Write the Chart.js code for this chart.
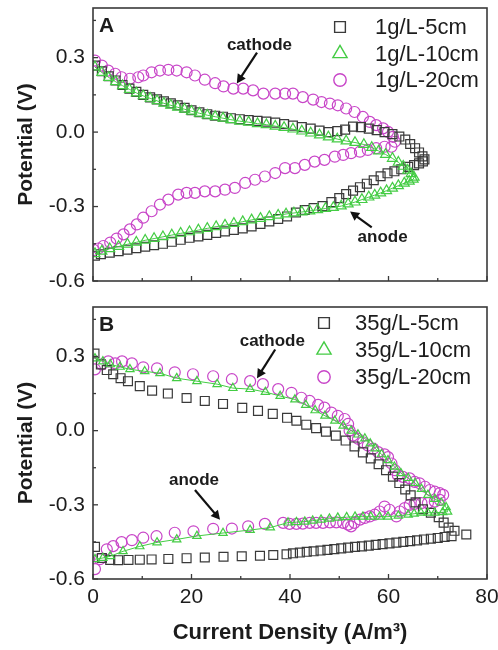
<!DOCTYPE html>
<html>
<head>
<meta charset="utf-8">
<script src="https://cdn.jsdelivr.net/npm/chart.js@4.4.1/dist/chart.umd.min.js"></script>
<style>
  html, body { margin: 0; padding: 0; background: #ffffff; }
  #wrap { position: relative; width: 498px; height: 650px; }
  #wrap canvas { position: absolute; left: 0; }
</style>
</head>
<body>
<div id="wrap">
  <canvas id="panelA" width="498" height="290" style="top:0px"></canvas>
  <canvas id="panelB" width="498" height="360" style="top:290px"></canvas>
</div>
<script>
// ---- axes ----
const xRange = [0, 80];
const yRange = [-0.6, 0.5];
const xMajor = [0, 20, 40, 60, 80];
const xMinor = [10, 30, 50, 70];
const yMajor = [-0.6, -0.3, 0.0, 0.3];
const yMinor = [-0.45, -0.15, 0.15, 0.45];
const xTitle = 'Current Density (A/m\u00B3)';
const yTitle = 'Potential (V)';

// ---- panel A: 1 g/L, polarization loops (cathode branch then anode branch) ----
const labelsA = ['1g/L-5cm', '1g/L-10cm', '1g/L-20cm'];

const a5X = [0.4, 1.8, 3.2, 4.6, 6.0, 7.4, 8.8, 10.2, 11.6, 13.0, 14.4, 15.8, 17.2, 18.6, 20.0, 21.6, 23.2, 24.8, 26.4, 28.0,
  29.8, 31.6, 33.4, 35.2, 37.0, 38.8, 40.6, 42.4, 44.2, 46.0, 47.8, 49.6, 51.2, 52.8, 54.4, 56.0, 57.6, 59.2, 60.8, 62.2,
  63.4, 64.4, 65.4, 66.2, 66.9, 67.3,
  67.0, 66.2, 65.2, 64.0, 62.6, 61.2, 59.8, 58.4, 57.0, 55.6, 54.2, 52.8, 51.4, 50.0, 48.4, 46.6, 44.8, 43.0, 41.2, 39.4,
  37.6, 35.8, 34.0, 32.2, 30.4, 28.6, 26.8, 25.0, 23.2, 21.4, 19.6, 17.8, 16.0, 14.2, 12.4, 10.6, 8.8, 7.0, 5.2, 3.4, 1.6, 0.4];
const a5Y = [0.268, 0.245, 0.225, 0.208, 0.190, 0.175, 0.162, 0.150, 0.140, 0.132, 0.124, 0.116, 0.108, 0.098, 0.088, 0.080,
  0.072, 0.066, 0.062, 0.056, 0.052, 0.048, 0.045, 0.042, 0.038, 0.032, 0.026, 0.020, 0.014, 0.006, 0.000, 0.004, 0.010,
  0.022, 0.020, 0.014, 0.008, 0.000, -0.008, -0.018, -0.030, -0.048, -0.065, -0.082, -0.098, -0.110,
  -0.118, -0.126, -0.133, -0.140, -0.150, -0.158, -0.166, -0.178, -0.194, -0.208, -0.222, -0.236, -0.250, -0.266, -0.282,
  -0.298, -0.306, -0.314, -0.324, -0.340, -0.350, -0.360, -0.370, -0.380, -0.388, -0.394, -0.400, -0.406, -0.414, -0.420,
  -0.426, -0.434, -0.442, -0.450, -0.456, -0.462, -0.468, -0.474, -0.480, -0.486, -0.492, -0.498];

const a10X = [0.4, 1.8, 3.2, 4.6, 6.0, 7.4, 8.8, 10.2, 11.6, 13.0, 14.4, 15.8, 17.2, 18.6, 20.0, 21.6, 23.2, 24.8, 26.4, 28.0,
  29.8, 31.6, 33.4, 35.2, 37.0, 38.8, 40.6, 42.4, 44.2, 46.0, 47.8, 49.6, 51.4, 53.2, 55.0, 56.6, 58.0, 59.4, 60.8, 62.0,
  63.0, 63.9, 64.6, 65.2,
  65.0, 64.2, 63.2, 62.0, 60.8, 59.6, 58.4, 57.2, 56.0, 54.6, 53.2, 51.8, 50.4, 48.8, 47.2, 45.6, 44.0, 42.4, 40.8, 39.2,
  37.6, 35.8, 34.0, 32.2, 30.4, 28.6, 26.8, 25.0, 23.2, 21.4, 19.6, 17.8, 16.0, 14.2, 12.4, 10.6, 8.8, 7.0, 5.2, 3.4, 1.8, 0.4];
const a10Y = [0.262, 0.240, 0.220, 0.203, 0.187, 0.172, 0.158, 0.146, 0.136, 0.126, 0.116, 0.108, 0.100, 0.092, 0.084, 0.076,
  0.068, 0.062, 0.056, 0.050, 0.044, 0.040, 0.034, 0.030, 0.024, 0.018, 0.012, 0.004, -0.004, -0.012, -0.020, -0.028, -0.036,
  -0.042, -0.050, -0.062, -0.076, -0.090, -0.106, -0.122, -0.138, -0.154, -0.168, -0.182,
  -0.190, -0.198, -0.206, -0.216, -0.226, -0.236, -0.245, -0.254, -0.262, -0.272, -0.282, -0.290, -0.298, -0.304, -0.308,
  -0.313, -0.318, -0.322, -0.326, -0.330, -0.335, -0.341, -0.348, -0.354, -0.361, -0.368, -0.375, -0.381, -0.388, -0.395,
  -0.402, -0.408, -0.415, -0.422, -0.429, -0.436, -0.444, -0.452, -0.461, -0.470, -0.480, -0.490];

const a20X = [0.4, 1.8, 3.1, 4.5, 5.8, 7.5, 9.2, 10.2, 11.9, 13.6, 15.3, 17.0, 19.0, 20.7, 22.7, 24.8, 26.5, 28.5, 30.5, 32.5,
  34.6, 37.0, 39.0, 40.6, 42.6, 44.7, 46.4, 48.1, 49.7, 51.4, 53.1, 54.8, 56.2, 57.5, 58.9, 59.9, 60.9, 61.3,
  60.6, 59.2, 57.5, 55.8, 54.2, 52.4, 50.8, 49.1, 47.0, 45.0, 43.0, 41.0, 39.0, 37.0, 34.9, 32.9, 30.9, 28.8, 26.8, 24.8,
  22.7, 20.7, 19.0, 17.3, 15.3, 13.6, 11.9, 10.2, 8.9, 7.5, 6.2, 4.8, 3.5, 2.1, 1.1, 0.2];
const a20Y = [0.288, 0.268, 0.248, 0.235, 0.221, 0.215, 0.221, 0.228, 0.241, 0.248, 0.251, 0.248, 0.241, 0.228, 0.211, 0.197,
  0.184, 0.175, 0.175, 0.168, 0.155, 0.155, 0.155, 0.155, 0.141, 0.131, 0.121, 0.115, 0.108, 0.095, 0.081, 0.061, 0.041,
  0.028, 0.015, 0.001, -0.019, -0.039,
  -0.059, -0.059, -0.065, -0.072, -0.079, -0.085, -0.092, -0.099, -0.112, -0.119, -0.132, -0.145, -0.145, -0.165, -0.179,
  -0.192, -0.205, -0.225, -0.232, -0.239, -0.239, -0.245, -0.245, -0.252, -0.272, -0.292, -0.319, -0.345, -0.372, -0.392,
  -0.412, -0.429, -0.445, -0.459, -0.469, -0.475];

// ---- panel B: 35 g/L ----
const labelsB = ['35g/L-5cm', '35g/L-10cm', '35g/L-20cm'];

const b5X = [0.3, 1.6, 2.8, 4.1, 5.6, 7.1, 9.5, 12.0, 15.2, 19.0, 22.7, 26.4, 30.3, 33.5, 36.5, 39.4, 41.3, 43.3, 45.3, 47.3,
  49.3, 51.3, 53.1, 54.8, 56.4, 58.0, 59.5, 60.9, 62.2, 63.4, 64.5, 65.5, 67.0, 68.6, 70.2, 71.2, 72.2, 73.4, 75.8,
  72.8, 71.4, 70.0, 68.6, 67.2, 65.8, 64.4, 63.0, 61.6, 60.2, 58.8, 57.4, 56.0, 54.6, 53.2, 51.8, 50.4, 49.0, 47.6, 46.2,
  44.8, 43.4, 42.0, 40.6, 39.3, 36.6, 33.9, 30.2, 26.5, 22.7, 19.0, 15.3, 11.9, 9.5, 7.2, 5.1, 3.5, 1.8, 0.4];
const b5Y = [0.312, 0.268, 0.245, 0.228, 0.212, 0.200, 0.180, 0.162, 0.150, 0.132, 0.120, 0.108, 0.092, 0.080, 0.068, 0.052,
  0.040, 0.024, 0.010, -0.004, -0.020, -0.040, -0.064, -0.088, -0.112, -0.136, -0.160, -0.186, -0.212, -0.238, -0.262,
  -0.290, -0.318, -0.332, -0.350, -0.372, -0.392, -0.405, -0.420,
  -0.427, -0.430, -0.434, -0.437, -0.440, -0.444, -0.447, -0.450, -0.453, -0.456, -0.459, -0.462, -0.465, -0.468, -0.470,
  -0.473, -0.476, -0.479, -0.482, -0.485, -0.488, -0.490, -0.493, -0.496, -0.500, -0.503, -0.506, -0.508, -0.510, -0.513,
  -0.516, -0.519, -0.521, -0.522, -0.523, -0.524, -0.523, -0.515, -0.470];

const b10X = [0.4, 2.0, 3.5, 5.5, 7.5, 10.5, 13.6, 17.0, 21.1, 25.2, 28.4, 31.9, 35.0, 38.0, 41.0, 43.2, 45.1, 47.1, 49.1, 50.8,
  52.4, 53.8, 55.2, 56.3, 57.3, 58.6, 59.9, 61.2, 62.5, 64.0, 65.4, 66.7, 68.0, 69.4, 70.7, 71.7, 72.0,
  71.0, 69.4, 68.0, 66.6, 65.2, 64.0, 62.0, 59.9, 58.2, 56.4, 54.8, 53.2, 51.5, 49.7, 48.0, 46.3, 44.6, 43.0, 41.3, 39.6,
  36.0, 31.9, 26.4, 21.1, 17.0, 13.0, 9.5, 6.1, 3.5, 2.0, 0.4];
const b10Y = [0.292, 0.280, 0.268, 0.258, 0.248, 0.240, 0.232, 0.212, 0.200, 0.188, 0.172, 0.168, 0.156, 0.140, 0.126, 0.104,
  0.082, 0.060, 0.040, 0.020, 0.000, -0.016, -0.032, -0.052, -0.072, -0.096, -0.120, -0.146, -0.172, -0.192, -0.212, -0.236,
  -0.260, -0.276, -0.292, -0.310, -0.328,
  -0.330, -0.332, -0.332, -0.332, -0.336, -0.340, -0.344, -0.348, -0.348, -0.348, -0.348, -0.348, -0.350, -0.352, -0.356,
  -0.360, -0.364, -0.368, -0.370, -0.372, -0.392, -0.402, -0.414, -0.426, -0.440, -0.452, -0.468, -0.488, -0.508, -0.515, -0.520];

const b20X = [0.4, 1.8, 3.1, 4.5, 5.9, 7.9, 10.2, 13.0, 16.6, 20.3, 24.4, 28.2, 31.9, 34.5, 37.6, 40.3, 42.3, 44.0, 45.7, 47.0,
  48.4, 49.7, 51.1, 51.8, 52.1, 52.8, 53.8, 54.8, 55.8, 56.9, 57.9, 59.2, 59.9, 60.6, 61.3, 61.9, 62.9, 64.3, 65.3, 66.3,
  67.4, 68.4, 69.4, 70.4, 71.1,
  70.4, 69.4, 68.0, 66.7, 65.3, 64.3, 63.3, 62.3, 61.6, 60.2, 59.2, 58.2, 57.2, 56.2, 55.2, 54.2, 53.1, 52.4, 51.8, 50.8,
  49.4, 48.1, 46.7, 45.3, 44.0, 42.6, 41.3, 39.9, 38.6, 34.9, 31.5, 28.2, 24.4, 20.4, 16.6, 12.9, 10.2, 7.9, 5.8, 4.1, 2.8, 1.4, 0.4];
const b20Y = [0.248, 0.268, 0.280, 0.272, 0.280, 0.272, 0.256, 0.252, 0.236, 0.228, 0.220, 0.208, 0.200, 0.188, 0.168, 0.153,
  0.133, 0.120, 0.104, 0.093, 0.073, 0.060, 0.047, 0.027, 0.000, -0.020, -0.033, -0.047, -0.060, -0.073, -0.087, -0.096,
  -0.107, -0.133, -0.160, -0.180, -0.187, -0.193, -0.207, -0.213, -0.227, -0.240, -0.247, -0.253, -0.260,
  -0.280, -0.287, -0.293, -0.293, -0.296, -0.300, -0.313, -0.327, -0.347, -0.320, -0.307, -0.327, -0.340, -0.347, -0.353,
  -0.360, -0.373, -0.387, -0.380, -0.373, -0.371, -0.371, -0.373, -0.373, -0.373, -0.376, -0.377, -0.377, -0.373, -0.377,
  -0.387, -0.396, -0.397, -0.407, -0.413, -0.427, -0.433, -0.443, -0.451, -0.467, -0.480, -0.520, -0.560];

// ---- styling ----
const FONT = '"Liberation Sans", Arial, Helvetica, sans-serif';
const INK = '#1c1c1c';
const FRAME = '#3a3a3a';
const COL_SQ = '#3a3a3a';
const COL_TRI = '#44cc44';
const COL_CIR = '#c845c8';

function pts(xs, ys) { return xs.map((x, i) => ({ x: x, y: ys[i] })); }

function squares(label, xs, ys) {
  return { label, data: pts(xs, ys), showLine: false, order: 2,
    pointStyle: 'rect', pointRadius: 6.3, pointBorderWidth: 1.2,
    borderColor: COL_SQ, pointBorderColor: COL_SQ, pointBackgroundColor: 'rgba(0,0,0,0)' };
}
function triangles(label, xs, ys, r) {
  return { label, data: pts(xs, ys), showLine: true, order: 1, borderWidth: 1, tension: 0,
    pointStyle: 'triangle', pointRadius: r, pointBorderWidth: 1.2,
    borderColor: COL_TRI, pointBorderColor: COL_TRI, pointBackgroundColor: 'rgba(0,0,0,0)' };
}
function circles(label, xs, ys) {
  return { label, data: pts(xs, ys), showLine: false, order: 3,
    pointStyle: 'circle', pointRadius: 5.5, pointBorderWidth: 1.2,
    borderColor: COL_CIR, pointBorderColor: COL_CIR, pointBackgroundColor: 'rgba(0,0,0,0)' };
}

const xTickValues = xMajor.concat(xMinor).sort((a, b) => a - b);
const yTickValues = yMajor.concat(yMinor).sort((a, b) => a - b);
const isMajor = (list, v) => list.some(m => Math.abs(m - v) < 1e-9);

// marker shapes for the in-plot legend (same geometry as Chart.js point styles)
function marker(ctx, style, r, x, y) {
  ctx.beginPath();
  if (style === 'rect') {
    const s = r * Math.SQRT1_2;
    ctx.rect(x - s, y - s, 2 * s, 2 * s);
  } else if (style === 'triangle') {
    let a = 0;
    ctx.moveTo(x + Math.sin(a) * r, y - Math.cos(a) * r);
    a += 2 * Math.PI / 3;
    ctx.lineTo(x + Math.sin(a) * r, y - Math.cos(a) * r);
    a += 2 * Math.PI / 3;
    ctx.lineTo(x + Math.sin(a) * r, y - Math.cos(a) * r);
    ctx.closePath();
  } else {
    ctx.arc(x, y, r, 0, Math.PI * 2);
  }
  ctx.stroke();
}

// frame with inward tick marks, panel letter, legend and arrow notes
const panelDecor = {
  id: 'panelDecor',
  afterDatasetsDraw(chart, args, opts) {
    const { ctx, chartArea: a, scales } = chart;
    ctx.save();
    ctx.strokeStyle = FRAME;
    ctx.lineWidth = 1.6;
    ctx.strokeRect(a.left, a.top, a.right - a.left, a.bottom - a.top);
    ctx.lineWidth = 1.3;
    scales.x.ticks.forEach(t => {
      const px = scales.x.getPixelForValue(t.value);
      const len = isMajor(xMajor, t.value) ? 5 : 3;
      ctx.beginPath(); ctx.moveTo(px, a.bottom); ctx.lineTo(px, a.bottom - len); ctx.stroke();
    });
    scales.y.ticks.forEach(t => {
      const py = scales.y.getPixelForValue(t.value);
      const len = isMajor(yMajor, t.value) ? 5 : 3;
      ctx.beginPath(); ctx.moveTo(a.left, py); ctx.lineTo(a.left + len, py); ctx.stroke();
    });

    // panel letter
    ctx.fillStyle = INK;
    ctx.font = 'bold 21px ' + FONT;
    ctx.textAlign = 'left';
    ctx.textBaseline = 'alphabetic';
    ctx.fillText(opts.letter, a.left + 6, a.top + 24);

    // legend
    const lg = opts.legend;
    ctx.font = '22px ' + FONT;
    ctx.textBaseline = 'middle';
    const sizes = { rect: 7.6, triangle: 8.2, circle: 6.2 };
    chart.data.datasets.forEach((ds, i) => {
      const y = a.top + lg.rowTop + i * lg.rowGap;
      ctx.strokeStyle = ds.pointBorderColor;
      ctx.lineWidth = 1.4;
      marker(ctx, ds.pointStyle, sizes[ds.pointStyle], a.right - lg.markerFromRight, y);
      ctx.fillStyle = INK;
      ctx.fillText(ds.label, a.right - lg.textFromRight, y + 1);
    });

    // arrow notes, placed in data units
    ctx.font = 'bold 17px ' + FONT;
    ctx.textAlign = 'center';
    ctx.textBaseline = 'middle';
    opts.notes.forEach(n => {
      const X = v => scales.x.getPixelForValue(v);
      const Y = v => scales.y.getPixelForValue(v);
      ctx.fillStyle = INK;
      ctx.fillText(n.text, X(n.at[0]), Y(n.at[1]));
      const x1 = X(n.from[0]), y1 = Y(n.from[1]), x2 = X(n.to[0]), y2 = Y(n.to[1]);
      const ang = Math.atan2(y2 - y1, x2 - x1);
      const hl = 9, hw = 4.8;
      ctx.strokeStyle = '#111111';
      ctx.lineWidth = 2.2;
      ctx.beginPath();
      ctx.moveTo(x1, y1);
      ctx.lineTo(x2 - Math.cos(ang) * hl * 0.8, y2 - Math.sin(ang) * hl * 0.8);
      ctx.stroke();
      ctx.fillStyle = '#111111';
      ctx.beginPath();
      ctx.moveTo(x2, y2);
      ctx.lineTo(x2 - Math.cos(ang) * hl - Math.sin(ang) * hw, y2 - Math.sin(ang) * hl + Math.cos(ang) * hw);
      ctx.lineTo(x2 - Math.cos(ang) * hl + Math.sin(ang) * hw, y2 - Math.sin(ang) * hl - Math.cos(ang) * hw);
      ctx.closePath();
      ctx.fill();
    });
    ctx.restore();
  }
};

function makeScales(showX) {
  return {
    x: {
      type: 'linear', min: xRange[0], max: xRange[1],
      grid: { display: false, drawTicks: false },
      border: { display: false },
      afterBuildTicks: s => { s.ticks = xTickValues.map(v => ({ value: v })); },
      ticks: {
        display: showX, autoSkip: false, maxRotation: 0, padding: 6, color: INK,
        font: { family: FONT, size: 21 },
        callback: v => isMajor(xMajor, v) ? String(v) : ''
      },
      title: {
        display: showX, text: xTitle, color: INK,
        font: { family: FONT, size: 22, weight: 'bold' }, padding: { top: 0, bottom: 4 }
      },
      // fixed band height; end labels may overhang the plot edges
      afterFit: s => { s.height = showX ? 71 : 9; s.paddingLeft = 0; s.paddingRight = 0; }
    },
    y: {
      type: 'linear', min: yRange[0], max: yRange[1],
      grid: { display: false, drawTicks: false },
      border: { display: false },
      afterBuildTicks: s => { s.ticks = yTickValues.map(v => ({ value: v })); },
      ticks: {
        autoSkip: false, padding: 8, color: INK,
        font: { family: FONT, size: 21 },
        callback: v => isMajor(yMajor, v) ? v.toFixed(1) : ''
      },
      title: {
        display: true, text: yTitle, color: INK,
        font: { family: FONT, size: 21, weight: 'bold' }, padding: { top: 14, bottom: 0 }
      },
      afterFit: s => { s.width = 93; s.paddingTop = 0; s.paddingBottom = 0; }
    }
  };
}

function makePanel(id, datasets, showX, padTop, decor) {
  return new Chart(document.getElementById(id), {
    type: 'scatter',
    data: { datasets },
    options: {
      responsive: false, animation: false, devicePixelRatio: 1,
      layout: { padding: { left: 0, top: padTop, right: 11, bottom: 0 } },
      scales: makeScales(showX),
      plugins: { legend: { display: false }, tooltip: { enabled: false }, panelDecor: decor }
    },
    plugins: [panelDecor]
  });
}

makePanel('panelA', [
  squares(labelsA[0], a5X, a5Y),
  triangles(labelsA[1], a10X, a10Y, 5.8),
  circles(labelsA[2], a20X, a20Y)
], false, 8, {
  letter: 'A',
  legend: { rowTop: 19, rowGap: 26.5, markerFromRight: 147, textFromRight: 112 },
  notes: [
    { text: 'cathode', at: [33.8, 0.348], from: [33.3, 0.32], to: [29.2, 0.196] },
    { text: 'anode', at: [58.8, -0.424], from: [56.6, -0.384], to: [52.2, -0.32] }
  ]
});

makePanel('panelB', [
  squares(labelsB[0], b5X, b5Y),
  triangles(labelsB[1], b10X, b10Y, 4.8),
  circles(labelsB[2], b20X, b20Y)
], true, 17, {
  letter: 'B',
  legend: { rowTop: 16, rowGap: 27, markerFromRight: 163, textFromRight: 132 },
  notes: [
    { text: 'cathode', at: [36.4, 0.36], from: [37.0, 0.328], to: [33.3, 0.212] },
    { text: 'anode', at: [20.5, -0.2], from: [20.7, -0.24], to: [25.8, -0.36] }
  ]
});
</script>
</body>
</html>
